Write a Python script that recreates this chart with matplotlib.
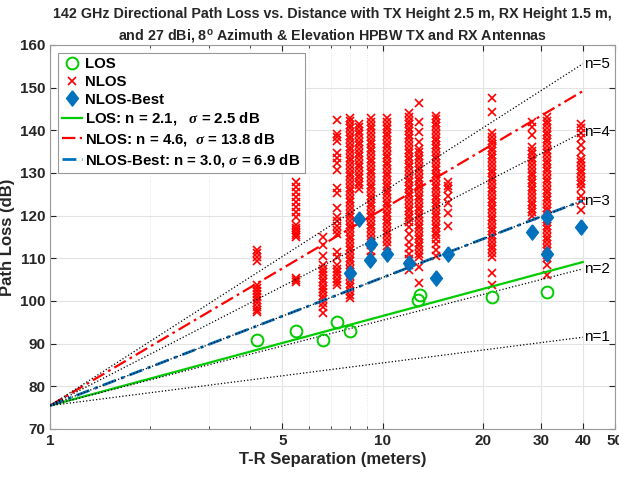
import numpy as np
import matplotlib
matplotlib.use("Agg")
import matplotlib.pyplot as plt

plt.rcParams['font.family'] = ['Liberation Sans', 'DejaVu Sans']
plt.rcParams['font.weight'] = 'bold'
plt.rcParams['axes.labelweight'] = 'bold'
plt.rcParams['axes.titleweight'] = 'bold'
plt.rcParams['mathtext.fontset'] = 'custom'
plt.rcParams['mathtext.rm'] = 'Liberation Sans:bold'
plt.rcParams['mathtext.it'] = 'Liberation Serif:italic'

# free space path loss at 1 m, 142 GHz
fspl_1m = 20 * np.log10(4 * np.pi * 142e9 / 3e8)

# LOS measurements
los_d = [4.2, 5.5, 6.6, 7.3, 8.0, 12.8, 13.0, 21.3, 31.2]
los_pl = [90.8, 92.9, 90.8, 95.1, 92.9, 100.2, 101.4, 101.0, 102.0]

# NLOS-Best measurements
best_d = [7.96, 8.5, 9.14, 9.25, 10.3, 12.0, 14.5, 15.7, 28.2, 31.2, 31.2, 39.5]
best_pl = [106.5, 119.3, 109.6, 113.3, 111.1, 108.9, 105.4, 111.1, 116.2, 119.6, 111.0, 117.3]

# NLOS measurements, one list per T-R distance
nlos_dist = [4.2, 5.5, 6.6, 7.3, 8.0, 8.5, 9.2, 10.3, 12.0, 12.9, 14.5, 15.7, 21.3, 28.2, 31.2, 39.5]
pl_4_2 = [112.0, 111.2, 110.4, 109.3, 103.7, 103.0, 102.3, 101.6, 100.9, 100.2, 99.5, 98.7, 98.0, 97.4]
pl_5_5 = [127.9, 126.7, 125.6, 124.4, 123.2, 122.1, 120.9, 119.7, 117.8, 117.2, 116.6, 116.0,
          115.4, 114.9, 105.4, 104.9, 104.4]
pl_6_6 = [115.0, 113.2, 110.5, 108.4, 107.6, 106.8, 106.0, 105.2, 104.4, 103.6, 102.8, 102.0,
          101.2, 100.4, 99.6, 98.6, 97.2]
pl_7_3 = [142.4, 139.2, 138.4, 137.6, 134.6, 133.5, 132.4, 130.8, 126.4, 125.4, 121.8, 119.8,
          118.8, 117.6, 116.6, 115.6, 111.4, 110.4, 108.4, 107.6, 106.8, 106.0, 105.2, 104.4, 103.7]
pl_8_0 = [143.0, 142.2, 141.3, 140.5, 139.6, 138.7, 137.9, 137.0, 136.1, 135.3, 134.4, 133.5,
          132.7, 131.8, 130.9, 130.1, 129.2, 128.3, 127.5, 126.6, 125.7, 124.9, 124.0, 123.1,
          122.3, 121.4, 120.5, 119.7, 118.8, 117.9, 117.1, 116.2, 115.3, 114.5, 113.6, 112.7,
          111.9, 111.0, 110.1, 109.3, 108.4, 107.5, 106.7, 105.8, 104.9, 104.1, 103.2, 102.3,
          101.5, 100.6]
pl_8_5 = [141.6, 140.8, 139.9, 139.1, 138.2, 137.3, 136.5, 135.6, 134.8, 133.9, 133.0, 132.2,
          131.3, 130.5, 129.6, 128.8, 127.9, 127.1, 126.3]
pl_9_2 = [142.8, 141.9, 141.1, 140.2, 139.4, 138.5, 137.6, 136.8, 135.9, 135.1, 134.2, 133.3,
          132.5, 131.6, 130.8, 129.9, 129.0, 128.2, 127.3, 126.5, 125.6, 124.7, 123.9, 123.0,
          122.2, 121.3, 120.4, 119.6, 118.7, 117.9, 117.0, 116.1, 115.3, 114.4, 113.2, 111.8, 110.4]
pl_10_3 = [142.8, 142.0, 141.1, 140.3, 139.4, 138.6, 137.7, 136.9, 136.0, 135.2, 134.3, 133.5,
           132.6, 131.8, 130.9, 130.1, 129.2, 128.4, 127.5, 126.7, 125.8, 125.0, 124.1, 123.3,
           122.4, 121.6, 120.7, 119.9, 119.0, 118.2, 117.3, 116.5, 115.6, 114.8, 113.9, 112.8]
pl_12_0 = [144.0, 143.2, 142.3, 141.5, 140.6, 139.8, 138.9, 138.1, 137.2, 136.4, 135.5, 134.7,
           133.8, 133.0, 132.1, 131.3, 130.4, 129.6, 128.7, 127.9, 127.0, 126.2, 125.3, 124.5,
           123.6, 122.8, 121.9, 121.1, 120.2, 119.4, 118.5, 117.3, 115.6, 113.9, 112.4, 111.0,
           109.8, 108.5, 107.2]
pl_12_9 = [146.4, 142.0, 139.7, 137.3, 135.7, 134.9, 134.0, 133.2, 132.3, 131.5, 130.6, 129.8,
           128.9, 128.1, 127.2, 126.4, 125.5, 124.7, 123.8, 123.0, 122.1, 121.3, 120.4, 119.6,
           118.7, 117.9, 117.0, 116.2, 115.3, 114.5, 113.6, 112.8, 111.9, 111.1, 110.3, 107.9, 104.3]
pl_14_5 = [143.4, 142.6, 141.7, 140.9, 140.0, 139.2, 138.3, 137.5, 136.6, 135.8, 134.9, 134.1,
           133.2, 132.4, 131.5, 130.7, 129.8, 129.0, 128.1, 127.3, 126.4, 125.6, 124.7, 123.9,
           123.0, 122.2, 121.3, 120.5, 119.6, 118.8, 117.9, 117.1, 116.2, 115.4, 114.5, 113.4,
           112.0, 110.6]
pl_15_7 = [128.0, 127.0, 126.2, 124.6, 122.9, 120.7, 117.6]
pl_21_3 = [147.6, 144.3, 139.3, 138.5, 137.6, 136.8, 135.9, 135.1, 134.2, 133.4, 132.5, 131.7,
           130.8, 130.0, 129.1, 128.3, 127.4, 126.6, 125.7, 124.9, 124.0, 123.2, 122.3, 121.5,
           120.6, 119.8, 118.9, 118.1, 117.2, 116.4, 115.5, 114.7, 113.8, 113.0, 112.1, 111.2,
           110.3, 106.5, 103.7]
pl_28_2 = [142.0, 140.8, 138.9, 136.1, 135.2, 134.4, 133.5, 132.7, 131.8, 131.0, 130.1, 129.3,
           128.4, 127.6, 126.7, 125.9, 125.0, 124.2, 123.3, 122.5, 121.6, 120.8, 119.9]
pl_31_2 = [143.1, 142.3, 141.4, 140.6, 139.7, 138.9, 138.0, 137.2, 136.3, 135.5, 134.6, 133.8,
           132.9, 132.1, 131.2, 130.4, 129.5, 128.7, 127.8, 127.0, 126.1, 125.3, 124.4, 123.6,
           122.7, 121.9, 121.0, 120.2, 119.3, 118.5, 117.6, 116.8, 115.9, 115.1, 114.2, 113.4,
           112.5, 111.7, 110.8, 110.0, 108.4, 106.1]
pl_39_5 = [141.6, 140.5, 139.3, 138.1, 136.5, 134.9, 133.3, 132.5, 131.6, 130.8, 129.9, 129.1,
           128.2, 127.4, 126.6, 124.6, 123.4, 121.4]
nlos_cols = [pl_4_2, pl_5_5, pl_6_6, pl_7_3, pl_8_0, pl_8_5, pl_9_2, pl_10_3, pl_12_0, pl_12_9,
             pl_14_5, pl_15_7, pl_21_3, pl_28_2, pl_31_2, pl_39_5]

# fitted path loss exponents
n_los, n_nlos, n_best = 2.1, 4.6, 3.0
ref_n = [1, 2, 3, 4, 5]

nlos_d = np.concatenate([[d] * len(c) for d, c in zip(nlos_dist, nlos_cols)])
nlos_pl = np.concatenate(nlos_cols)

fig = plt.figure(figsize=(6.19, 4.79), dpi=100)
ax = fig.add_axes([50 / 619, 1 - 429 / 479, 565 / 619, 384 / 479])

blue = '#0072bd'
green = '#00cc00'
txt = '#262626'

h_los, = ax.plot(los_d, los_pl, 'o', ms=8.5, mfc='none', mec=green, mew=1.4, zorder=5)
h_nlos, = ax.plot(nlos_d, nlos_pl, 'x', ms=5.8, color='red', mew=1.2, zorder=2)
dia = [(0, 1), (0.78, 0), (0, -1), (-0.78, 0), (0, 1)]
h_best, = ax.plot(best_d, best_pl, marker=dia, ls='none', ms=11, color=blue, zorder=5)

xd = np.logspace(0, np.log10(40), 200)
h_l1, = ax.plot(xd, fspl_1m + 10 * n_los * np.log10(xd), '-', color=green, lw=1.6, zorder=3)
h_l2, = ax.plot(xd, fspl_1m + 10 * n_nlos * np.log10(xd), color='red', lw=1.6,
                dashes=(6, 2, 1.2, 2), zorder=3)
h_l3, = ax.plot(xd, fspl_1m + 10 * n_best * np.log10(xd), color=blue, lw=2.0,
                dashes=(5, 2, 1.2, 2), zorder=3)

for n in ref_n:
    y = fspl_1m + 10 * n * np.log10(xd)
    ax.plot(xd, y, ':', color='black', lw=0.9, zorder=4)
    ax.text(40.3, y[-1], f'n={n}', fontsize=11, fontweight='normal', va='center', ha='left')

ax.set_xscale('log')
ax.set_xlim(1, 50)
ax.set_ylim(70, 160)
ax.set_xticks([1, 5, 10, 20, 30, 40, 50])
ax.set_xticklabels(['1', '5', '10', '20', '30', '40', '50'])
ax.set_xticks([2, 3, 4, 6, 7, 8, 9], minor=True)
ax.xaxis.set_minor_formatter(matplotlib.ticker.NullFormatter())
ax.set_yticks(np.arange(70, 161, 10))
ax.tick_params(which='both', direction='in', top=True, right=True, colors=txt,
               labelsize=11, length=4)
ax.tick_params(which='minor', length=2.5)
for lbl in ax.get_xticklabels() + ax.get_yticklabels():
    lbl.set_fontweight('bold')
for s in ax.spines.values():
    s.set_color('#999999')
    s.set_linewidth(0.8)
ax.grid(True, which='major', color='#e3e3e3', lw=0.8)
ax.grid(True, which='minor', axis='x', color='#e6e6e6', lw=0.7, ls=':')
ax.set_axisbelow(True)

ax.set_xlabel('T-R Separation (meters)', fontsize=12, fontweight='bold', color=txt, labelpad=3)
ax.set_ylabel('Path Loss (dB)', fontsize=12, fontweight='bold', color=txt, labelpad=3)
ax.set_title('142 GHz Directional Path Loss vs. Distance with TX Height 2.5 m, RX Height 1.5 m,\n'
             'and 27 dBi, 8$^{\\mathrm{o}}$ Azimuth & Elevation HPBW TX and RX Antennas',
             fontsize=10.3, fontweight='bold', color=txt, linespacing=1.45, pad=4)

leg = ax.legend([h_los, h_nlos, h_best, h_l1, h_l2, h_l3],
                ['LOS', 'NLOS', 'NLOS-Best',
                 'LOS: n = 2.1,   $\\sigma$ = 2.5 dB',
                 'NLOS: n = 4.6,  $\\sigma$ = 13.8 dB',
                 'NLOS-Best: n = 3.0, $\\sigma$ = 6.9 dB'],
                loc='upper left', handlelength=1.3, handletextpad=0.25,
                labelspacing=0.25, borderaxespad=0.5, borderpad=0.3, fancybox=False,
                framealpha=1, edgecolor='#999999',
                prop={'size': 10.8, 'weight': 'bold'})
leg.get_frame().set_linewidth(0.8)

plt.savefig('out.png', dpi=100)
